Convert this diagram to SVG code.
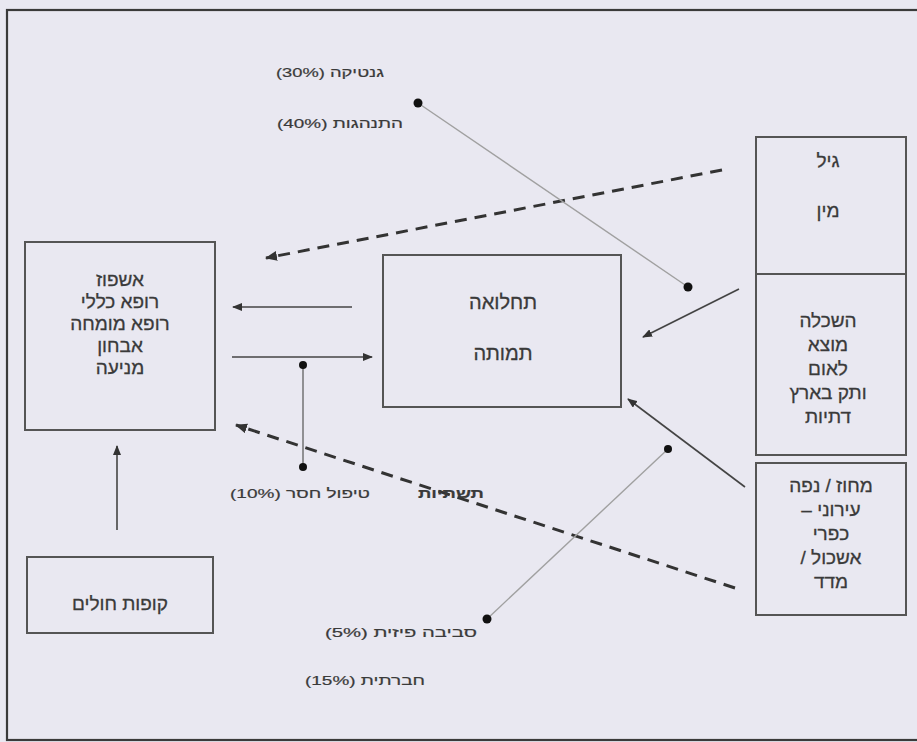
<svg xmlns="http://www.w3.org/2000/svg" width="917" height="742" viewBox="0 0 917 742">
<style>
.box{fill:none;stroke:#555;stroke-width:2}
.t{font-family:"Liberation Sans","DejaVu Sans",sans-serif;font-size:19px;fill:#3a3a3a;stroke:#3a3a3a;stroke-width:0.3;text-anchor:middle;direction:rtl;unicode-bidi:embed}
.s{font-family:"Liberation Sans","DejaVu Sans",sans-serif;font-size:13px;fill:#3a3a3a;stroke:#3a3a3a;stroke-width:0.2;text-anchor:middle;direction:rtl;unicode-bidi:embed}
.b{font-weight:bold;font-size:14px}
.arr{stroke:#444;stroke-width:1.6;fill:none;marker-end:url(#ah)}
.dash{stroke:#333;stroke-width:3;stroke-dasharray:12 8;fill:none;marker-end:url(#ahd)}
.thin{stroke:#a0a0a0;stroke-width:1.4;fill:none}
.thinv{stroke:#555;stroke-width:1.2;fill:none}
.dot{fill:#111}
</style>
<defs>
<marker id="ah" markerWidth="10" markerHeight="8" refX="9" refY="4" orient="auto" markerUnits="userSpaceOnUse"><path d="M0,0 L10,4 L0,8 z" fill="#333"/></marker>
<marker id="ahd" markerWidth="12" markerHeight="10" refX="11" refY="5" orient="auto" markerUnits="userSpaceOnUse"><path d="M0,0 L12,5 L0,10 z" fill="#333"/></marker>
</defs>
<rect x="0" y="0" width="917" height="742" fill="#e9e8f1"/>
<rect x="7" y="10" width="930" height="730" fill="none" stroke="#3a3a3a" stroke-width="2.2"/>

<g id="connectors">
<line class="dash" x1="722" y1="170" x2="266" y2="258"/>
<line class="arr" x1="352" y1="307" x2="233" y2="307"/>
<line class="arr" x1="232" y1="357" x2="372" y2="357"/>
<line class="arr" x1="117" y1="530" x2="117" y2="446"/>
<line class="thinv" x1="303" y1="365" x2="303" y2="467"/>
<circle class="dot" cx="303" cy="365" r="4"/>
<circle class="dot" cx="303" cy="467" r="4"/>
<line class="thin" x1="418" y1="103" x2="688" y2="287"/>
<circle class="dot" cx="418" cy="103" r="4.5"/>
<circle class="dot" cx="688" cy="287" r="4.5"/>
<line class="arr" x1="739" y1="289" x2="643" y2="337"/>
<line class="arr" x1="745" y1="487" x2="628" y2="399"/>
<line class="dash" x1="735" y1="588" x2="236" y2="425"/>
<line class="thin" x1="487" y1="619" x2="668" y2="449"/>
<circle class="dot" cx="487" cy="619" r="4.5"/>
<circle class="dot" cx="668" cy="449" r="4"/>
</g>

<g id="node-services">
<rect class="box" x="25" y="242" width="190" height="188"/>
<text class="t" x="120" y="286">אשפוז</text>
<text class="t" x="120" y="308">רופא כללי</text>
<text class="t" x="120" y="330">רופא מומחה</text>
<text class="t" x="120" y="352">אבחון</text>
<text class="t" x="120" y="374">מניעה</text>
</g>

<g id="node-hmo">
<rect class="box" x="27" y="557" width="186" height="76"/>
<text class="t" x="120" y="610">קופות חולים</text>
</g>

<g id="node-outcome">
<rect class="box" x="383" y="255" width="238" height="152"/>
<text class="t" x="503" y="309" style="font-size:20px">תחלואה</text>
<text class="t" x="503" y="360" style="font-size:20px">תמותה</text>
</g>

<g id="node-age-sex">
<rect class="box" x="756" y="137" width="150" height="137"/>
<text class="t" x="828" y="167">גיל</text>
<text class="t" x="828" y="217">מין</text>
</g>

<g id="node-social">
<rect class="box" x="756" y="274" width="150" height="181"/>
<text class="t" x="828" y="327">השכלה</text>
<text class="t" x="828" y="351">מוצא</text>
<text class="t" x="828" y="375">לאום</text>
<text class="t" x="828" y="399">ותק בארץ</text>
<text class="t" x="828" y="423">דתיות</text>
</g>

<g id="node-geo">
<rect class="box" x="756" y="463" width="150" height="152"/>
<text class="t" x="831" y="492">מחוז / נפה</text>
<text class="t" x="831" y="516">עירוני –</text>
<text class="t" x="831" y="540">כפרי</text>
<text class="t" x="831" y="564">אשכול /</text>
<text class="t" x="831" y="588">מדד</text>
</g>

<g id="labels">
<text class="s" x="330" y="77" textLength="108" lengthAdjust="spacingAndGlyphs">גנטיקה (30%)</text>
<text class="s" x="340" y="128" textLength="126" lengthAdjust="spacingAndGlyphs">התנהגות (40%)</text>
<text class="s" x="300" y="498" textLength="140" lengthAdjust="spacingAndGlyphs">טיפול חסר (10%)</text>
<text class="s b" x="451" y="498" textLength="66" lengthAdjust="spacingAndGlyphs">תשתיות</text>
<text class="s" x="401" y="637" textLength="152" lengthAdjust="spacingAndGlyphs">סביבה פיזית (5%)</text>
<text class="s" x="365" y="685" textLength="120" lengthAdjust="spacingAndGlyphs">חברתית (15%)</text>
</g>
</svg>
